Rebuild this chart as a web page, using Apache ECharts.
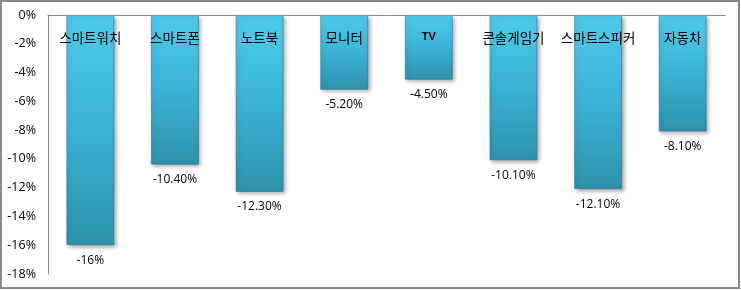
<!DOCTYPE html>
<html>
<head>
<meta charset="utf-8">
<script src="https://cdn.jsdelivr.net/npm/echarts@6/dist/echarts.min.js"></script>
<style>
html,body{margin:0;padding:0;background:#fff;}
#c{width:741px;height:291px;}
</style>
</head>
<body>
<div id="c"></div>
<script>
const categories = ['스마트워치','스마트폰','노트북','모니터','TV','콘솔게임기','스마트스피커','자동차'];
const values = [-16, -10.4, -12.3, -5.2, -4.5, -10.1, -12.1, -8.1];
const valueLabels = ['-16%','-10.40%','-12.30%','-5.20%','-4.50%','-10.10%','-12.10%','-8.10%'];
const yMin = -18, yMax = 0, yStep = 2;

const chart = echarts.init(document.getElementById('c'), null, {renderer:'canvas'});
chart.setOption({
  animation:false,
  backgroundColor:'#fff',
  graphic:[{type:'rect', shape:{x:1,y:1,width:738,height:287}, style:{fill:'none', stroke:'#8a8a8a', lineWidth:2}, silent:true, z:-1}],
  grid:{left:48, top:15, right:16, bottom:17},
  xAxis:{
    type:'category', data:categories, position:'top',
    axisLine:{show:true, lineStyle:{color:'#8a8a8a', width:1}},
    axisTick:{show:false},
    axisLabel:{
      inside:true, interval:0, hideOverlap:false, margin:16, color:'#000', fontSize:13.5,
      fontFamily:'"Noto Sans CJK KR", sans-serif',
      formatter:function(v){ return v==='TV' ? '{tv|TV}' : v; },
      rich:{tv:{fontSize:11, fontWeight:'bold', fontFamily:'"Liberation Sans", Arial, sans-serif', color:'#000'}}
    },
    z:10
  },
  yAxis:{
    type:'value', min:yMin, max:yMax, interval:yStep,
    axisLine:{show:true, lineStyle:{color:'#8a8a8a', width:1}},
    axisTick:{show:false},
    splitLine:{show:false},
    axisLabel:{formatter:function(v){return v+'%';}, color:'#000', fontSize:12.5, margin:12, fontFamily:'"Open Sans", "Noto Sans", sans-serif'}
  },
  series:[{
    type:'bar', data:values, barWidth:48,
    itemStyle:{
      color:new echarts.graphic.LinearGradient(0,0,0,1,[
        {offset:0, color:'#4fcbea'},
        {offset:0.5, color:'#3ab3d4'},
        {offset:1, color:'#2e92ac'}
      ]),
      borderColor:'rgba(30,110,135,0.5)', borderWidth:1,
      shadowColor:'rgba(0,0,0,0.35)', shadowBlur:4, shadowOffsetX:2, shadowOffsetY:2
    },
    label:{
      show:true, position:'bottom', distance:9, color:'#000', fontSize:12,
      fontFamily:'"Open Sans", "Noto Sans", sans-serif',
      formatter:function(p){ return valueLabels[p.dataIndex]; }
    },
    z:2
  }]
});
</script>
</body>
</html>
